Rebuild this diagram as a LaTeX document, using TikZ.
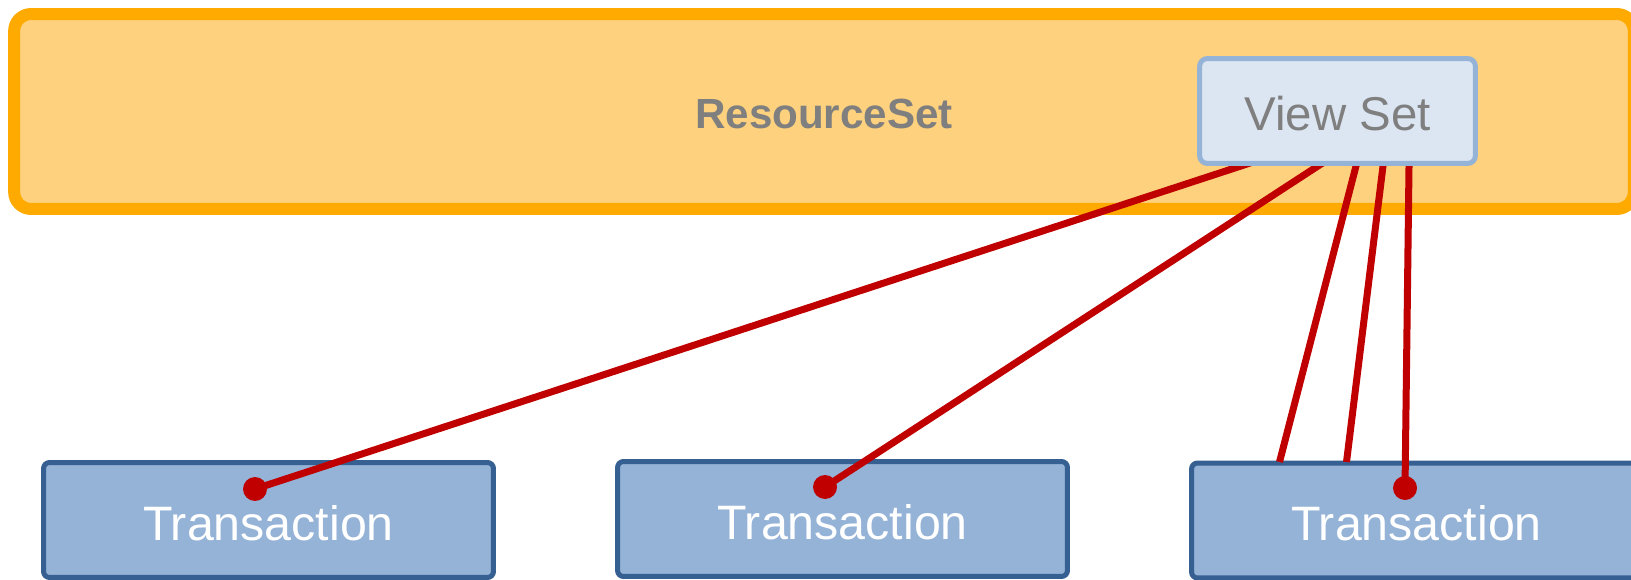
\documentclass[tikz,border=0pt]{standalone}
\usepackage{fontspec}
\setmainfont{Liberation Sans}
\usetikzlibrary{calc}
\definecolor{SetFill}{RGB}{253, 209, 125}
\definecolor{SetLine}{RGB}{255, 170, 0}
\definecolor{ViewFill}{RGB}{220, 230, 242}
\definecolor{ViewLine}{RGB}{149, 179, 215}
\definecolor{TxFill}{RGB}{149, 179, 215}
\definecolor{TxLine}{RGB}{55, 96, 146}
\definecolor{Link}{RGB}{192, 0, 0}
\definecolor{Label}{RGB}{127, 127, 127}
\pgfdeclarelayer{front}
\pgfsetlayers{main,front}

\begin{document}
\begin{tikzpicture}[x=0.02cm, y=-0.02cm,
    txbox/.style={draw=TxLine, fill=TxFill, line width=0.1cm, rounded corners=0.12cm,
        minimum width=9cm, minimum height=2.3cm, text=white, text height=23.1pt, text depth=0pt,
        font=\fontsize{27.5}{33}\selectfont},
    dotmark/.style={circle, fill=Link, inner sep=0pt, minimum size=0.48cm},
    link/.style={draw=Link, line width=0.14cm}]
            \useasboundingbox (0,0) rectangle (1631,580);
            \clip (0,0) rectangle (1631,580);

            % Resource set
            \node[draw=SetLine, fill=SetFill, line width=0.24cm, rounded corners=0.34cm,
                minimum width=32.4cm, minimum height=3.9cm, text=Label, text height=19.5pt, text depth=0pt,
                font=\fontsize{24}{29}\selectfont\bfseries] (rs) at (824,111.5) {ResourceSet};
            \begin{pgfonlayer}{front}
            \node[draw=ViewLine, fill=ViewFill, line width=0.1cm, rounded corners=0.16cm,
                minimum width=5.52cm, minimum height=2.1cm, text=Label, text height=22.7pt, text depth=0pt,
                font=\fontsize{27}{32}\selectfont] (vs) at (1337.5,111) {View Set};
            \end{pgfonlayer}

            % Transactions
            \node[txbox] (t1) at (268.5,520) {Transaction};
            \node[txbox] (t2) at (842.5,519) {Transaction};
            \node[txbox] (t3) at (1416.5,520.5) {Transaction};

            \node[dotmark] (d1) at (255,489) {};
            \node[dotmark] (d2) at (825,487) {};
            \node[dotmark] (d3) at (1405,488) {};
            \coordinate (e3) at (1279.5,462);
            \coordinate (e4) at (1346.5,462);

            % Links
            \draw[link, shorten <=-0.4cm] ($(vs.south)+(-96.5,0)$) -- (d1.center);
            \draw[link, shorten <=-0.4cm] ($(vs.south)+(-19.5,0)$) -- (d2.center);
            \draw[link, shorten <=-0.4cm] ($(vs.south)+(18.5,0)$) -- (e3);
            \draw[link, shorten <=-0.4cm] ($(vs.south)+(45.5,0)$) -- (e4);
            \draw[link, shorten <=-0.4cm] ($(vs.south)+(71.5,0)$) -- (d3.center);
        \end{tikzpicture}
\end{document}
